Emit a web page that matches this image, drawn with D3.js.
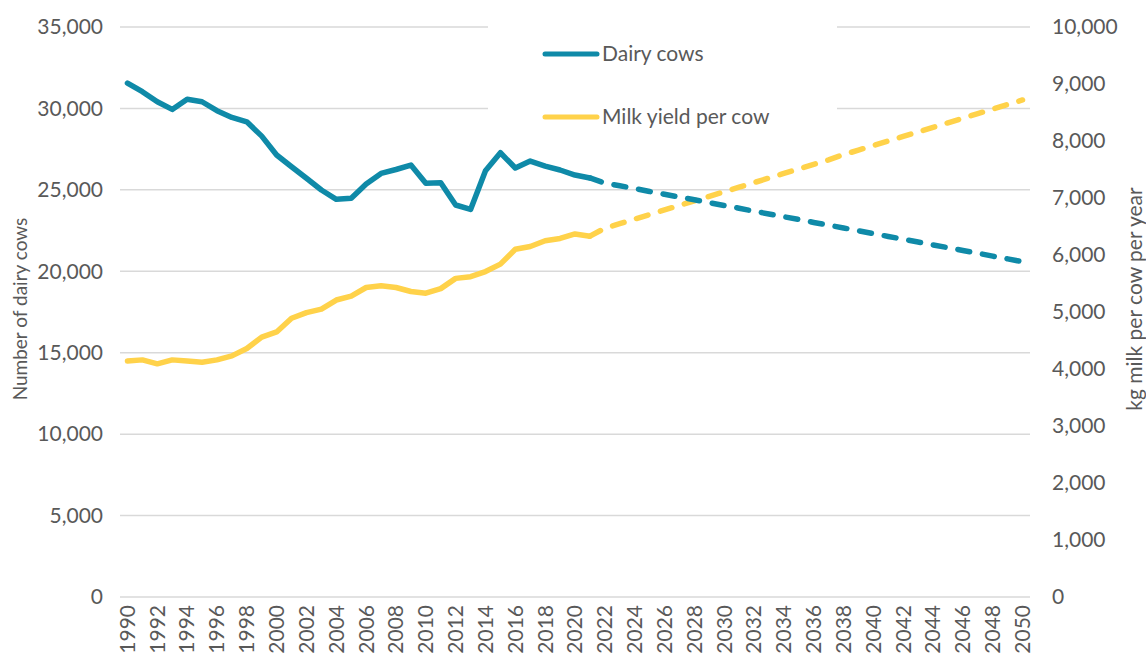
<!DOCTYPE html>
<meta charset="utf-8">
<style>
	body{ margin: 0; background: #fff; }
	text{ font-family: Lato, "Open Sans", sans-serif; fill: #595959; }
	.grid line{ stroke: #d9d9d9; stroke-width: 1.5px; }
</style>
<body>
<script src="https://d3js.org/d3.v7.min.js"></script>
<script>

	// years on the category axis
	var years = d3.range(1990, 2051);

	// number of dairy cows, recorded 1990-2021
	var cowsActual = [31560, 31030, 30410, 29940, 30560, 30410, 29860, 29450, 29180, 28300,
		27140, 26420, 25710, 24990, 24420, 24480, 25360, 26010, 26250, 26520,
		25400, 25440, 24070, 23800, 26180, 27280, 26340, 26770, 26460, 26220,
		25910, 25730];
	// projected cows 2021-2050
	var cowsProj = [25730, 25420, 25250, 25080, 24900, 24730, 24560, 24390, 24210, 24040,
		23870, 23690, 23520, 23350, 23180, 23000, 22830, 22660, 22490, 22310,
		22140, 21970, 21800, 21620, 21450, 21280, 21110, 20930, 20760, 20590];

	// kg milk per cow per year, recorded 1990-2021
	var milkActual = [4140, 4160, 4090, 4160, 4140, 4120, 4160, 4230, 4360, 4560,
		4650, 4890, 4990, 5050, 5210, 5280, 5430, 5460, 5430, 5360,
		5330, 5410, 5590, 5620, 5710, 5840, 6100, 6150, 6250, 6290,
		6370, 6330];
	// projected milk yield 2021-2050
	var milkProj = [6330, 6470, 6550, 6630, 6710, 6790, 6870, 6950, 7030, 7110,
		7190, 7270, 7350, 7430, 7510, 7590, 7670, 7760, 7840, 7920,
		8000, 8080, 8160, 8240, 8320, 8400, 8480, 8560, 8640, 8720];

	var leftTicks = [0, 5000, 10000, 15000, 20000, 25000, 30000, 35000];
	var rightTicks = [0, 1000, 2000, 3000, 4000, 5000, 6000, 7000, 8000, 9000, 10000];
	var seriesNames = ["Dairy cows", "Milk yield per cow"];
	var blue = "#0f8aa8", yellow = "#ffd24a";

	var width = 1146, height = 662;
	var plot = {left: 120, right: 1030, top: 27, bottom: 597};

	var svg = d3.select("body").append("svg")
		.attr("width", width)
		.attr("height", height);

	var x = d3.scaleBand()
		.domain(years)
		.range([plot.left, plot.right]);

	var yL = d3.scaleLinear()
		.domain([0, 35000])
		.range([plot.bottom, plot.top]);

	var yR = d3.scaleLinear()
		.domain([0, 10000])
		.range([plot.bottom, plot.top]);

	var fmt = d3.format(",");
	var cx = function(yr) { return x(yr) + x.bandwidth() / 2; };

	// gridlines
	svg.append("g")
		.attr("class", "grid")
		.selectAll("line")
		.data(leftTicks)
		.enter().append("line")
		.attr("x1", plot.left)
		.attr("x2", plot.right)
		.attr("y1", function(d) { return yL(d); })
		.attr("y2", function(d) { return yL(d); });

	// left labels
	svg.append("g").selectAll("text")
		.data(leftTicks)
		.enter().append("text")
		.attr("x", 103)
		.attr("y", function(d) { return yL(d); })
		.attr("dy", "0.35em")
		.attr("text-anchor", "end")
		.attr("font-size", "21px")
		.text(function(d) { return fmt(d); });

	// right labels
	svg.append("g").selectAll("text")
		.data(rightTicks)
		.enter().append("text")
		.attr("x", 1052)
		.attr("y", function(d) { return yR(d); })
		.attr("dy", "0.35em")
		.attr("font-size", "21px")
		.text(function(d) { return fmt(d); });

	// x labels, every other year
	svg.append("g").selectAll("text")
		.data(years.filter(function(d) { return d % 2 === 0; }))
		.enter().append("text")
		.attr("transform", function(d) { return "translate(" + cx(d) + ",605) rotate(-90)"; })
		.attr("dy", "0.35em")
		.attr("text-anchor", "end")
		.attr("font-size", "21px")
		.text(function(d) { return d; });

	// axis titles
	svg.append("text")
		.attr("transform", "translate(20,309) rotate(-90)")
		.attr("dy", "0.35em")
		.attr("text-anchor", "middle")
		.attr("font-size", "19px")
		.text("Number of dairy cows");

	svg.append("text")
		.attr("transform", "translate(1135,299) rotate(-90)")
		.attr("dy", "0.35em")
		.attr("text-anchor", "middle")
		.attr("font-size", "21px")
		.text("kg milk per cow per year");

	// legend box hides gridlines behind it
	svg.append("rect")
		.attr("x", 488)
		.attr("y", 15)
		.attr("width", 349)
		.attr("height", 115)
		.attr("fill", "#fff");

	function drawLine(values, startYear, scale, colour, dashed) {
		var line = d3.line()
			.x(function(d, i) { return cx(startYear + i); })
			.y(function(d) { return scale(d); });
		svg.append("path")
			.datum(values)
			.attr("fill", "none")
			.attr("stroke", colour)
			.attr("stroke-width", 5.5)
			.attr("stroke-linejoin", "round")
			.attr("stroke-linecap", "round")
			.attr("stroke-dasharray", dashed ? "12,13" : null)
			.attr("d", line);
	}

	drawLine(milkActual, 1990, yR, yellow, false);
	drawLine(milkProj, 2021, yR, yellow, true);
	drawLine(cowsActual, 1990, yL, blue, false);
	drawLine(cowsProj, 2021, yL, blue, true);

	// legend
	var leg = svg.append("g").selectAll("g")
		.data(seriesNames)
		.enter().append("g")
		.attr("transform", function(d, i) { return "translate(0," + (54 + i * 63) + ")"; });

	leg.append("line")
		.attr("x1", 545)
		.attr("x2", 597)
		.attr("stroke", function(d, i) { return i === 0 ? blue : yellow; })
		.attr("stroke-width", 5)
		.attr("stroke-linecap", "round");

	leg.append("text")
		.attr("x", 602)
		.attr("dy", "0.35em")
		.attr("font-size", "21px")
		.text(function(d) { return d; });

</script>
</body>
